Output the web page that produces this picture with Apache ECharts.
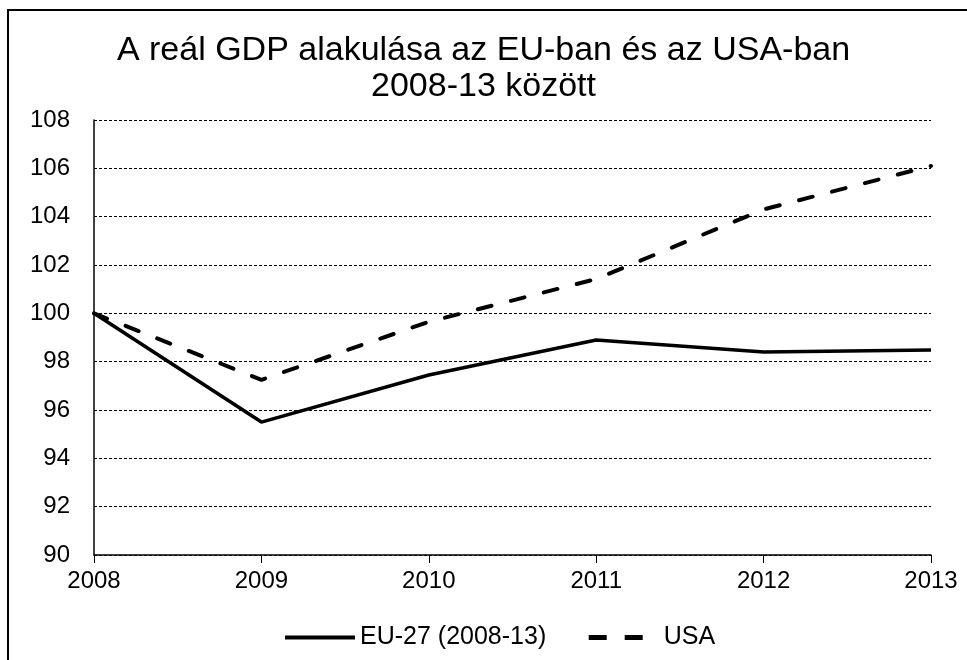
<!DOCTYPE html>
<html>
<head>
<meta charset="utf-8">
<script src="https://cdn.jsdelivr.net/npm/echarts@6/dist/echarts.min.js"></script>
<style>
  html, body { margin: 0; padding: 0; background: #fff; }
  #chart { width: 967px; height: 660px; }
</style>
</head>
<body>
<div id="chart"></div>
<script>
// évek és értékek (2008 = 100)
var years = ["2008", "2009", "2010", "2011", "2012", "2013"];
var euValues = [100, 95.5, 97.45, 98.9, 98.4, 98.48];
var usaValues = [100, 97.25, 99.65, 101.42, 104.3, 106.1];
var seriesNames = ["EU-27 (2008-13)", "USA"];

var font = "Liberation Sans, Arial, sans-serif";
var chart = echarts.init(document.getElementById("chart"));
chart.setOption({
  animation: false,
  textStyle: { fontFamily: font, color: "#000" },
  title: {
    text: "A reál GDP alakulása az EU-ban és az USA-ban\n2008-13 között",
    left: "center",
    top: 28,
    textStyle: { fontSize: 34, fontWeight: "normal", color: "#000", lineHeight: 36, fontFamily: font }
  },
  // keret
  graphic: [{
    type: "rect",
    shape: { x: 8, y: 10, width: 1000, height: 700 },
    style: { fill: "none", stroke: "#000", lineWidth: 2 }
  }],
  legend: {
    top: 620,
    left: 278,
    itemWidth: 70,
    itemHeight: 14,
    itemGap: 40,
    itemStyle: { opacity: 0 },
    textStyle: { fontSize: 25, color: "#000", fontFamily: font },
    data: [
      { name: seriesNames[0], lineStyle: { width: 4, type: "solid" } },
      { name: seriesNames[1], lineStyle: { width: 5, type: [18, 18], cap: "butt" } }
    ]
  },
  grid: { left: 94, right: 36, top: 120, bottom: 105 },
  xAxis: {
    type: "category",
    data: years,
    boundaryGap: false,
    axisLine: { lineStyle: { color: "#000", width: 1.5 } },
    axisTick: { alignWithLabel: true, length: 8, lineStyle: { color: "#000" } },
    axisLabel: { fontSize: 24, color: "#000", margin: 14, fontFamily: font }
  },
  yAxis: {
    type: "value",
    min: 90,
    max: 108,
    interval: 2,
    axisLine: { show: true, lineStyle: { color: "#000", width: 1.5 } },
    axisTick: { show: false },
    axisLabel: { fontSize: 24, color: "#000", margin: 24, fontFamily: font },
    splitLine: { lineStyle: { color: "#000", type: [3, 2], width: 1 } }
  },
  series: [
    {
      name: seriesNames[0],
      type: "line",
      data: euValues,
      symbol: "none",
      lineStyle: { color: "#000", width: 3.5 },
      itemStyle: { color: "#000" }
    },
    {
      name: seriesNames[1],
      type: "line",
      data: usaValues,
      symbol: "none",
      lineStyle: { color: "#000", width: 4, type: [14, 20], cap: "round" },
      itemStyle: { color: "#000" }
    }
  ]
});
</script>
</body>
</html>
